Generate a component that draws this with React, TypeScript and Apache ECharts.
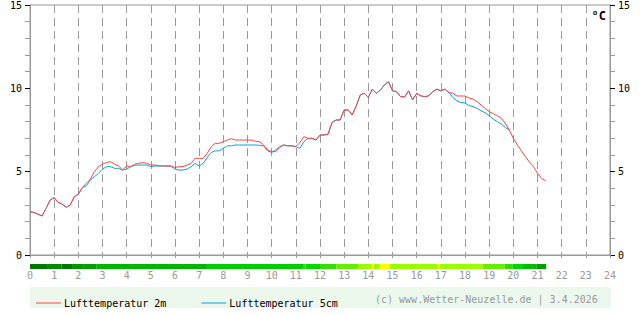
import React, { useEffect, useRef } from 'react';
import * as echarts from 'echarts';

// 10-minute readings starting at 0:00
const STEP_HOURS = 10 / 60;

const temp2m = [
  2.6, 2.55, 2.45, 2.34, 2.8, 3.3, 3.44, 3.15, 3.05, 2.86,
  3.0, 3.5, 3.65, 4.05, 4.3, 4.55, 5.0, 5.3, 5.45, 5.55,
  5.6, 5.45, 5.34, 5.1, 5.35, 5.3, 5.45, 5.5, 5.55, 5.5,
  5.4, 5.4, 5.35, 5.34, 5.34, 5.34, 5.25, 5.3, 5.3, 5.4,
  5.5, 5.8, 5.8, 5.8, 6.1, 6.5, 6.7, 6.7, 6.8, 6.9,
  6.98, 6.9, 6.9, 6.9, 6.9, 6.9, 6.82, 6.8, 6.6, 6.3,
  6.2, 6.2, 6.45, 6.6, 6.55, 6.55, 6.5, 6.75, 7.1, 7.0,
  7.0, 6.9, 7.2, 7.2, 7.25, 7.95, 8.1, 8.1, 8.7, 8.7,
  8.4, 8.95, 9.6, 9.7, 9.46, 9.95, 9.7, 9.9, 10.2, 10.4,
  9.85, 9.8, 9.5, 9.48, 9.85, 9.3, 9.7, 9.55, 9.5, 9.55,
  9.8, 9.95, 9.85, 9.95, 9.75, 9.7, 9.54, 9.54, 9.54, 9.42,
  9.35, 9.2, 9.0, 8.8, 8.6, 8.48, 8.36, 8.2, 7.9, 7.5,
  7.0, 6.6, 6.25, 5.9, 5.58, 5.3, 4.9, 4.6, 4.45,
];

const temp5cm = [
  2.6, 2.55, 2.45, 2.34, 2.8, 3.3, 3.44, 3.15, 3.05, 2.86,
  3.0, 3.5, 3.65, 4.05, 4.15, 4.5, 4.7, 4.9, 5.15, 5.3,
  5.3, 5.2, 5.2, 5.1, 5.15, 5.3, 5.38, 5.4, 5.4, 5.4,
  5.3, 5.34, 5.34, 5.34, 5.34, 5.34, 5.15, 5.1, 5.1, 5.15,
  5.3, 5.5, 5.34, 5.5, 5.85, 6.15, 6.25, 6.25, 6.4, 6.55,
  6.55, 6.6, 6.6, 6.6, 6.6, 6.6, 6.6, 6.58, 6.55, 6.25,
  6.15, 6.3, 6.5, 6.6, 6.55, 6.55, 6.5, 6.4, 6.8, 7.0,
  7.0, 6.9, 7.2, 7.2, 7.25, 7.95, 8.1, 8.1, 8.7, 8.7,
  8.4, 8.95, 9.6, 9.7, 9.46, 9.95, 9.7, 9.9, 10.2, 10.4,
  9.85, 9.8, 9.5, 9.48, 9.85, 9.3, 9.7, 9.55, 9.5, 9.55,
  9.8, 9.95, 9.85, 9.95, 9.75, 9.45, 9.25, 9.15, 9.12, 8.97,
  8.9, 8.8, 8.65, 8.54, 8.35, 8.15, 8.0, 7.86, 7.65, 7.5,
];

// Colour band under the axis (hours)
const bandStarts = [0, 0.74, 1.3, 1.74, 2.23, 2.74, 7.32, 11.33, 11.4, 12.0, 12.67, 13.57, 14.15, 14.23, 14.47, 14.88, 16.88, 16.95, 18.73, 19.64, 19.98, 20.4, 20.95];
const bandEnds = [0.74, 1.3, 1.74, 2.23, 2.74, 7.32, 11.33, 11.4, 12.0, 12.67, 13.57, 14.15, 14.23, 14.47, 14.88, 16.88, 16.95, 18.73, 19.64, 19.98, 20.4, 20.95, 21.36];
const bandColors = ['#007800', '#008a00', '#007800', '#009600', '#00a000', '#00b400', '#00cc00', '#33dd00', '#00d800', '#33dd00', '#66ee00', '#99ff00', '#ffff00', '#99ff00', '#ffff00', '#99ff00', '#ffff00', '#99ff00', '#66ee00', '#33dd00', '#00d800', '#00bb00', '#00a000'];

const seriesNames = ['Lufttemperatur 2m', 'Lufttemperatur 5cm'];
const copyright = '(c) www.Wetter-Neuzelle.de | 3.4.2026';
const unit = '°C';

const RED = '#ff4040';
const BLUE = '#00a4e0';
const GRAY = '#999999';
const FONT = '"DejaVu Sans Mono", monospace';

export default function App() {
  const ref = useRef<HTMLDivElement>(null);
  useEffect(() => {
    const chart = echarts.init(ref.current!, null, { renderer: 'svg' });
    const yAxisBase = {
      gridIndex: 0,
      type: 'value',
      min: 0,
      max: 15,
      interval: 5,
      axisLine: { show: true, lineStyle: { color: GRAY } },
      axisTick: { show: true, length: 5, lineStyle: { color: '#000' } },
      minorTick: { show: true, splitNumber: 5, length: 5, lineStyle: { color: GRAY } },
      axisLabel: { color: '#000', fontFamily: FONT, fontSize: 10, margin: 8 },
      splitLine: { show: false },
    };
    chart.setOption({
      animation: false,
      backgroundColor: '#ffffff',
      textStyle: { fontFamily: FONT, fontSize: 10 },
      grid: [
        { left: 30, top: 5, width: 580, height: 250, show: true, borderColor: GRAY, borderWidth: 1, backgroundColor: 'transparent' },
        { left: 30, top: 264, width: 580, height: 5 },
      ],
      xAxis: [
        {
          gridIndex: 0,
          type: 'value',
          min: 0,
          max: 24,
          interval: 1,
          axisLine: { show: true, lineStyle: { color: GRAY } },
          axisTick: { show: true, length: 3, lineStyle: { color: GRAY } },
          axisLabel: { color: GRAY, fontFamily: FONT, fontSize: 10, margin: 15 },
          splitLine: { show: true, lineStyle: { color: GRAY, type: [8, 5], width: 1 } },
        },
        { gridIndex: 1, type: 'value', min: 0, max: 24, show: false },
      ],
      yAxis: [
        { ...yAxisBase, position: 'left' },
        { ...yAxisBase, position: 'right' },
        { gridIndex: 1, type: 'value', min: 0, max: 1, show: false },
      ],
      legend: {
        left: 31,
        top: 293,
        itemWidth: 25,
        itemHeight: 1,
        itemGap: 35,
        icon: 'rect',
        textStyle: { color: '#000', fontFamily: FONT, fontSize: 10, padding: [0, 0, 0, -2] },
        data: seriesNames,
      },
      graphic: [
        { type: 'rect', left: 30, top: 287, z: -1, shape: { width: 581, height: 21 }, style: { fill: '#edf8ed' } },
        { type: 'text', left: 375, top: 294, style: { text: copyright, fill: GRAY, font: `10px ${FONT}` } },
        { type: 'text', right: 34, top: 10, style: { text: unit, fill: '#000', font: `bold 12px ${FONT}` } },
      ],
      series: [
        {
          type: 'line',
          name: seriesNames[1],
          xAxisIndex: 0,
          yAxisIndex: 0,
          symbol: 'none',
          lineStyle: { width: 1, color: BLUE },
          itemStyle: { color: BLUE },
          data: temp5cm.map((v, i) => [i * STEP_HOURS, v]),
        },
        {
          type: 'line',
          name: seriesNames[0],
          xAxisIndex: 0,
          yAxisIndex: 0,
          symbol: 'none',
          lineStyle: { width: 1, color: RED },
          itemStyle: { color: RED },
          data: temp2m.map((v, i) => [i * STEP_HOURS, v]),
        },
        {
          type: 'custom',
          xAxisIndex: 1,
          yAxisIndex: 2,
          encode: { x: [0, 1] },
          data: bandStarts.map((s, i) => [s, bandEnds[i]]),
          renderItem: (params: any, api: any) => {
            const a = api.coord([api.value(0), 0]);
            const b = api.coord([api.value(1), 1]);
            return {
              type: 'rect',
              shape: { x: a[0], y: b[1], width: b[0] - a[0], height: a[1] - b[1] },
              style: { fill: bandColors[params.dataIndex] },
            };
          },
        },
      ],
    });
    return () => chart.dispose();
  }, []);
  return <div ref={ref} style={{ position: 'fixed', left: 0, top: 0, width: 640, height: 315 }} />;
}
